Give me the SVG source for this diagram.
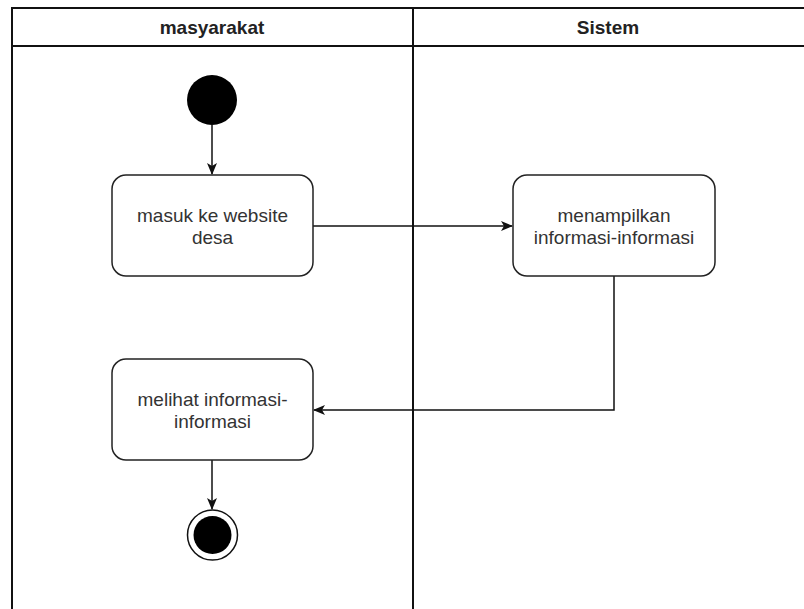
<svg xmlns="http://www.w3.org/2000/svg" width="804" height="609" viewBox="0 0 804 609">
<defs>
<style>
.frame{fill:none;stroke:#111;stroke-width:2}
.box{fill:#fff;stroke:#222;stroke-width:1.5}
.lbl{font-family:"Liberation Sans",Arial,sans-serif;font-size:19px;fill:#333;text-anchor:middle}
.hdr{font-family:"Liberation Sans",Arial,sans-serif;font-size:19px;font-weight:bold;fill:#222;text-anchor:middle}
.edge{fill:none;stroke:#111;stroke-width:1.5}
</style>
<marker id="arr" viewBox="0 0 12 10" refX="11" refY="5" markerWidth="12" markerHeight="10" markerUnits="userSpaceOnUse" orient="auto">
<path d="M0,0 L12,5 L0,10 L3,5 Z" fill="#111"/>
</marker>
</defs>
<rect width="804" height="609" fill="#fff"/>
<g id="swimlanes">
<path class="frame" d="M12,612 V8 H808 M12,46 H808 M413,8 V612"/>
<text class="hdr" x="212" y="34">masyarakat</text>
<text class="hdr" x="608" y="34">Sistem</text>
</g>
<g id="connectors">
<path class="edge" d="M212,125 V174" marker-end="url(#arr)"/>
<path class="edge" d="M313,226 H512" marker-end="url(#arr)"/>
<path class="edge" d="M614,276 V410 H314" marker-end="url(#arr)"/>
<path class="edge" d="M212,460 V509" marker-end="url(#arr)"/>
</g>
<g id="start">
<circle cx="212" cy="100" r="25" fill="#000"/>
</g>
<g id="masuk">
<rect class="box" x="112" y="175" width="201" height="101" rx="14"/>
<text class="lbl" x="212.5" y="222">masuk ke website</text>
<text class="lbl" x="212.5" y="244">desa</text>
</g>
<g id="menampilkan">
<rect class="box" x="513" y="175" width="202" height="101" rx="14"/>
<text class="lbl" x="614" y="222">menampilkan</text>
<text class="lbl" x="614" y="244">informasi-informasi</text>
</g>
<g id="melihat">
<rect class="box" x="112" y="359" width="201" height="101" rx="14"/>
<text class="lbl" x="212.5" y="406">melihat informasi-</text>
<text class="lbl" x="212.5" y="428">informasi</text>
</g>
<g id="end">
<circle cx="212.5" cy="535" r="25" fill="#fff" stroke="#111" stroke-width="1.5"/>
<circle cx="212.5" cy="535" r="19" fill="#000"/>
</g>
</svg>
